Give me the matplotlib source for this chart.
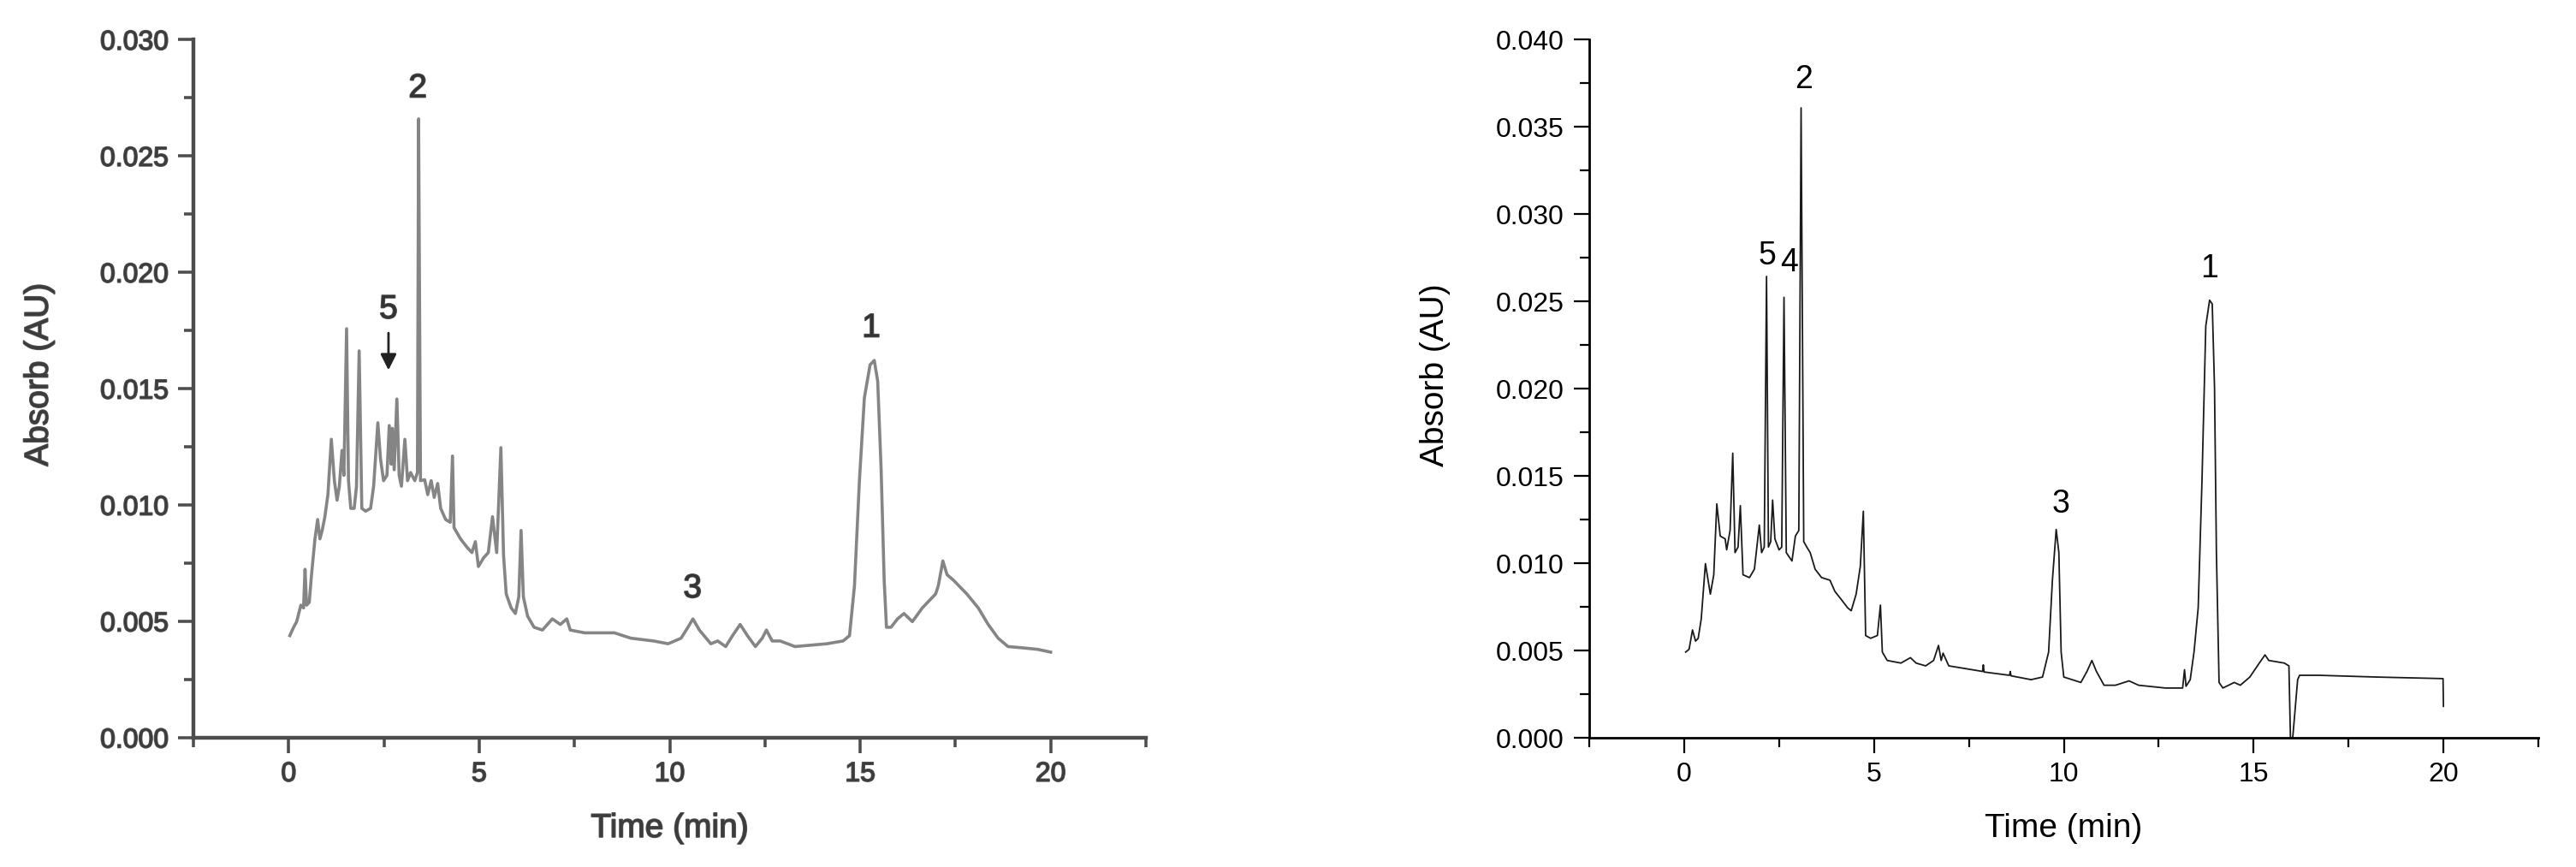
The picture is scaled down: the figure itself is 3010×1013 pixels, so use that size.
import matplotlib
matplotlib.use("Agg")
import matplotlib.pyplot as plt
import matplotlib.patheffects as pe
from matplotlib.ticker import MultipleLocator, FormatStrFormatter

plt.rcParams['font.family'] = ['Liberation Sans', 'DejaVu Sans']

# left chromatogram (grey, blurred scan)
time_a = [0.03, 0.13, 0.21, 0.32, 0.39, 0.43, 0.47, 0.54, 0.60, 0.69, 0.76, 0.82, 0.88, 0.95,
          1.03, 1.12, 1.20, 1.27, 1.33, 1.40, 1.45, 1.52, 1.57, 1.63, 1.72, 1.78, 1.85, 1.92,
          2.02, 2.15, 2.23, 2.34, 2.41, 2.49, 2.58, 2.64, 2.69, 2.72, 2.77, 2.84, 2.90, 2.96,
          3.05, 3.12, 3.20, 3.31, 3.38, 3.41, 3.46, 3.57, 3.65, 3.74, 3.82, 3.91, 3.99, 4.12,
          4.24, 4.30, 4.34, 4.51, 4.68, 4.81, 4.90, 4.98, 5.11, 5.24, 5.35, 5.46, 5.57, 5.64,
          5.71, 5.84, 5.95, 6.04, 6.10, 6.16, 6.27, 6.44, 6.66, 6.92, 7.13, 7.30, 7.39, 7.77,
          8.55, 8.98, 9.58, 9.96, 10.30, 10.48, 10.61, 10.78, 11.08, 11.26, 11.47, 11.65, 11.85,
          12.04, 12.25, 12.43, 12.54, 12.69, 12.90, 13.29, 14.12, 14.55, 14.72, 14.85, 14.98,
          15.11, 15.26, 15.37, 15.46, 15.55, 15.63, 15.69, 15.81, 15.98, 16.15, 16.37, 16.63,
          16.98, 17.05, 17.17, 17.28, 17.45, 17.80, 18.10, 18.36, 18.62, 18.88, 19.23, 19.66, 20.0]
absorb_a = [0.00439, 0.00475, 0.00499, 0.00570, 0.00558, 0.00724, 0.00570, 0.00582, 0.00701, 0.00855,
            0.00938, 0.00855, 0.00891, 0.00950, 0.01045, 0.01283, 0.01105, 0.01021, 0.01081, 0.01235,
            0.01128, 0.01758, 0.01105, 0.00986, 0.00986, 0.01081, 0.01663, 0.00986, 0.00974, 0.00986,
            0.01081, 0.01354, 0.01200, 0.01105, 0.01128, 0.01342, 0.01176, 0.01330, 0.01152, 0.01456,
            0.01128, 0.01081, 0.01283, 0.01105, 0.01140, 0.01105, 0.01140, 0.02660, 0.01105, 0.01109,
            0.01045, 0.01105, 0.01033, 0.01093, 0.00986, 0.00938, 0.00926, 0.01211, 0.00903, 0.00855,
            0.00819, 0.00796, 0.00843, 0.00736, 0.00772, 0.00796, 0.00950, 0.00796, 0.01247, 0.00784,
            0.00618, 0.00558, 0.00534, 0.00606, 0.00891, 0.00606, 0.00523, 0.00475, 0.00463, 0.00511,
            0.00487, 0.00511, 0.00463, 0.00451, 0.00451, 0.00428, 0.00416, 0.00404, 0.00428, 0.00475,
            0.00511, 0.00463, 0.00404, 0.00416, 0.00392, 0.00439, 0.00487, 0.00439, 0.00392, 0.00428,
            0.00463, 0.00416, 0.00416, 0.00392, 0.00404, 0.00416, 0.00439, 0.00653, 0.01105, 0.01461,
            0.01603, 0.01622, 0.01532, 0.01152, 0.00677, 0.00475, 0.00475, 0.00511, 0.00534, 0.00499,
            0.00558, 0.00618, 0.00653, 0.00760, 0.00701, 0.00677, 0.00618, 0.00558, 0.00487, 0.00428,
            0.00392, 0.00387, 0.00380, 0.00368]

# right chromatogram (black)
time_b = [0.04, 0.13, 0.22, 0.30, 0.37, 0.45, 0.56, 0.69, 0.78, 0.86, 0.95, 1.08, 1.12, 1.21, 1.28,
          1.34, 1.42, 1.48, 1.55, 1.72, 1.85, 1.98, 2.04, 2.11, 2.17, 2.22, 2.28, 2.33, 2.39, 2.50,
          2.57, 2.63, 2.69, 2.84, 2.93, 3.02, 3.08, 3.15, 3.23, 3.32, 3.45, 3.62, 3.84, 3.97, 4.14,
          4.31, 4.40, 4.53, 4.64, 4.72, 4.78, 4.91, 5.09, 5.17, 5.22, 5.35, 5.71, 5.96, 6.11, 6.36,
          6.57, 6.70, 6.77, 6.82, 6.97, 7.42, 7.86, 7.88, 7.90, 8.57, 8.59, 8.61, 9.14, 9.44, 9.60,
          9.70, 9.80, 9.87, 9.93, 10.00, 10.45, 10.61, 10.74, 10.86, 11.06, 11.36, 11.72, 11.97,
          12.68, 13.13, 13.18, 13.22, 13.33, 13.43, 13.54, 13.64, 13.74, 13.84, 13.91, 13.97, 14.02,
          14.09, 14.19, 14.49, 14.65, 14.90, 15.15, 15.30, 15.40, 15.81, 15.93, 15.97, 16.03, 16.16,
          16.21, 16.72, 18.23, 19.99, 20.0]
absorb_b = [0.00491, 0.00507, 0.00618, 0.00554, 0.00570, 0.00681, 0.00998, 0.00823, 0.00934, 0.01340,
            0.01156, 0.01140, 0.01077, 0.01188, 0.01631, 0.01061, 0.01093, 0.01330, 0.00934, 0.00918,
            0.00966, 0.01219, 0.01061, 0.01093, 0.02644, 0.01093, 0.01124, 0.01362, 0.01140, 0.01077,
            0.01093, 0.02524, 0.01061, 0.01013, 0.01156, 0.01188, 0.03610, 0.01124, 0.01093, 0.01061,
            0.00966, 0.00918, 0.00903, 0.00839, 0.00792, 0.00744, 0.00728, 0.00823, 0.00982, 0.01298,
            0.00586, 0.00570, 0.00586, 0.00760, 0.00491, 0.00443, 0.00428, 0.00459, 0.00428, 0.00412,
            0.00443, 0.00529, 0.00443, 0.00485, 0.00412, 0.00396, 0.00380, 0.00418, 0.00377, 0.00358,
            0.00380, 0.00355, 0.00333, 0.00348, 0.00491, 0.00903, 0.01194, 0.01061, 0.00491, 0.00348,
            0.00317, 0.00380, 0.00443, 0.00380, 0.00301, 0.00301, 0.00326, 0.00301, 0.00285, 0.00285,
            0.00390, 0.00295, 0.00333, 0.00491, 0.00744, 0.01473, 0.02359, 0.02508, 0.02486, 0.02011,
            0.01061, 0.00317, 0.00285, 0.00317, 0.00301, 0.00348, 0.00428, 0.00475, 0.00443, 0.00428,
            0.00412, 0.0, 0.0, 0.00333, 0.00358, 0.00358, 0.00348, 0.00339, 0.0018]

# peak labels: (text, time, absorbance)
labels_a = [("2", 3.39, 0.0279), ("5", 2.62, 0.0184), ("1", 15.29, 0.0176), ("3", 10.6, 0.0064)]
labels_b = [("2", 3.15, 0.0377), ("5", 2.18, 0.0276), ("4", 2.77, 0.0272),
            ("1", 13.83, 0.0269), ("3", 9.91, 0.0134)]

W, H = 3010, 1013
fig = plt.figure(figsize=(W / 100, H / 100), dpi=100)
axA = fig.add_axes([226 / W, 1 - 862 / H, 1113 / W, 815.5 / H])
axB = fig.add_axes([1857 / W, 1 - 862 / H, 1109 / W, 815.5 / H])


def style(ax, ymax, axcol, txtcol, spw):
    ax.set_xlim(-2.5, 22.5)
    ax.set_ylim(0, ymax)
    ax.spines['top'].set_visible(False)
    ax.spines['right'].set_visible(False)
    for s in ('left', 'bottom'):
        ax.spines[s].set_color(axcol)
        ax.spines[s].set_linewidth(spw)
    ax.set_xticks([0, 5, 10, 15, 20])
    ax.xaxis.set_minor_locator(MultipleLocator(2.5))
    ax.yaxis.set_major_locator(MultipleLocator(0.005))
    ax.yaxis.set_minor_locator(MultipleLocator(0.0025))
    ax.yaxis.set_major_formatter(FormatStrFormatter('%.3f'))
    ax.tick_params(which='major', direction='out', length=13, width=spw * 0.8,
                   color=axcol, labelcolor=txtcol, labelsize=23)
    ax.tick_params(which='minor', direction='out', length=8, width=spw * 0.8, color=axcol)
    ax.tick_params(axis='x', which='major', pad=7)
    ax.tick_params(axis='y', which='major', pad=8)
    ax.set_xlabel('Time (min)', fontsize=28, color=txtcol)
    ax.set_ylabel('Absorb (AU)', fontsize=28, color=txtcol)
    ax.xaxis.label.set_va('center')
    ax.yaxis.label.set_va('center')
    ax.xaxis.set_label_coords(0.5, -0.13)
    ax.yaxis.set_label_coords(-0.162, 0.52)


style(axA, 0.030, '#4d4d4d', '#3c3c3c', 3.2)
style(axB, 0.040, 'black', 'black', 2.0)

# the left figure is a blurry scan: thicken its text a little
blur = [pe.withStroke(linewidth=1.2, foreground='#555555')]
for lab in axA.get_xticklabels() + axA.get_yticklabels():
    lab.set_path_effects(blur)
axA.xaxis.label.set_path_effects(blur)
axA.yaxis.label.set_path_effects(blur)

axA.plot(time_a, absorb_a, color='#858585', lw=2.6, solid_joinstyle='round')
axB.plot(time_b, absorb_b, color='#1a1a1a', lw=1.3)

for txt, t, v in labels_a:
    axA.text(t, v, txt, ha='center', va='center', fontsize=28, color='#333333',
             path_effects=blur)
axA.annotate('', xy=(2.62, 0.0157), xytext=(2.62, 0.0175),
             arrowprops=dict(arrowstyle='-|>', color='#222222', lw=2, mutation_scale=28))

for txt, t, v in labels_b:
    axB.text(t, v, txt, ha='center', va='center', fontsize=27, color='black')

fig.savefig('out.png', dpi=100, facecolor='white')
